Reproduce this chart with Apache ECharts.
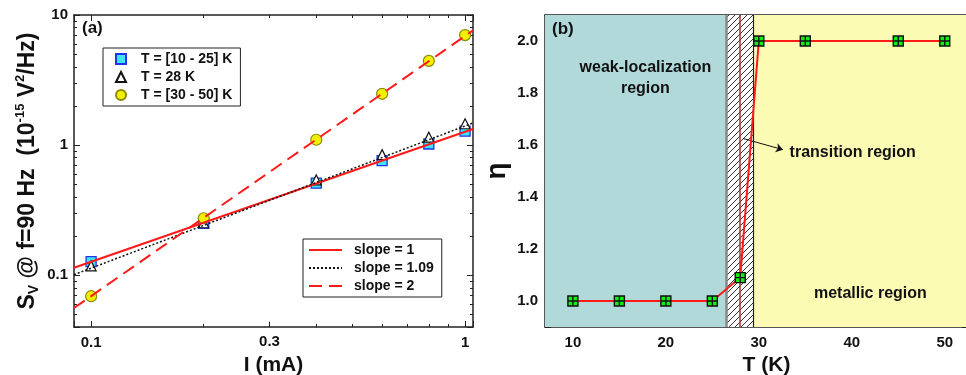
<!DOCTYPE html>
<html>
<head>
<meta charset="utf-8">
<script src="https://cdn.jsdelivr.net/npm/echarts@6/dist/echarts.min.js"></script>
<style>
html, body { margin: 0; padding: 0; background: #fff; }
#main { width: 966px; height: 375px; }
</style>
</head>
<body>
<div id="main"></div>
<script>
// panel (a): noise vs current
const current = [0.1, 0.2, 0.4, 0.6, 0.8, 1.0];
const sLow = [0.127, 0.25, 0.51, 0.76, 1.02, 1.28];
const s28 = [0.118, 0.253, 0.54, 0.845, 1.15, 1.46];
const sHigh = [0.069, 0.274, 1.10, 2.48, 4.44, 7.01];
// fit lines, end points
const fitX = [0.09, 1.05];
const fit1 = [0.114, 1.33];
const fit109 = [0.101, 1.48];
const fit2 = [0.056, 7.6];
const extraCurrentTicks = [0.3];
const sMin = 0.04, sMax = 10;

// panel (b): exponent vs temperature
const temps = [10, 15, 20, 25, 28, 30, 35, 45, 50];
const eta = [1.0, 1.0, 1.0, 1.0, 1.09, 2.0, 2.0, 2.0, 2.0];
const regionEdges = [7, 26.5, 29.45, 52.5];
const transitionT = 28;

const FONT = "'Liberation Sans', Arial, sans-serif";
const ink = '#111';

const pairs = (xs, ys) => xs.map((x, i) => [x, ys[i]]);

// hatch pattern for the transition band
const hatch = document.createElement('canvas');
hatch.width = 6; hatch.height = 6;
const hc = hatch.getContext('2d');
hc.fillStyle = '#fff';
hc.fillRect(0, 0, 6, 6);
hc.strokeStyle = '#333';
hc.lineWidth = 1;
hc.beginPath();
hc.moveTo(0, 6); hc.lineTo(6, 0);
hc.moveTo(-1, 1); hc.lineTo(1, -1);
hc.moveTo(5, 7); hc.lineTo(7, 5);
hc.stroke();

const tickLabel = { fontSize: 15, fontWeight: 'bold', color: ink, fontFamily: FONT };
const axisLine = { onZero: false, lineStyle: { color: '#222', width: 1.5 } };
const tickIn = { inside: true, length: 6, lineStyle: { color: '#222', width: 1 } };
const minorIn = { show: true, length: 3, lineStyle: { color: '#222', width: 1 } };

const chart = echarts.init(document.getElementById('main'));

const option = {
  animation: false,
  textStyle: { fontFamily: FONT },
  title: [
    { text: '(a)', left: 82, top: 20, textStyle: { fontSize: 17, fontWeight: 'bold', color: ink, fontFamily: FONT }, padding: 0 },
    { text: '(b)', left: 552, top: 21, textStyle: { fontSize: 17, fontWeight: 'bold', color: ink, fontFamily: FONT }, padding: 0 }
  ],
  grid: [
    { left: 74, top: 15, width: 399, height: 312, outerBoundsMode: 'none', containLabel: false },
    { left: 545, top: 15, right: -2, height: 312, outerBoundsMode: 'none', containLabel: false }
  ],
  legend: [
    {
      data: ['T = [10 - 25] K', 'T = 28 K', 'T = [30 - 50] K'],
      orient: 'vertical', left: 103, top: 48,
      padding: [2, 8, 2, 12], itemGap: 0, itemWidth: 10, itemHeight: 10,
      borderColor: '#222', borderWidth: 1, backgroundColor: '#fff',
      textStyle: { fontSize: 14, fontWeight: 'bold', color: ink, fontFamily: FONT, lineHeight: 18, padding: [0, 0, 0, 10] }
    },
    {
      data: ['slope = 1', 'slope = 1.09', 'slope = 2'],
      orient: 'vertical', left: 303, top: 239,
      padding: [2, 8, 2, 5], itemGap: 0, itemWidth: 33, itemHeight: 10,
      itemStyle: { opacity: 0 },
      borderColor: '#222', borderWidth: 1, backgroundColor: '#fff',
      textStyle: { fontSize: 14, fontWeight: 'bold', color: ink, fontFamily: FONT, lineHeight: 18, padding: [0, 0, 0, 7] }
    }
  ],
  xAxis: [
    {
      gridIndex: 0, type: 'log', logBase: 10, min: 0.09, max: 1.05, position: 'bottom',
      axisLine, axisTick: tickIn, minorTick: Object.assign({ splitNumber: 9 }, minorIn), splitLine: { show: false },
      axisLabel: Object.assign({ margin: 8, showMinLabel: false, showMaxLabel: false, formatter: v => String(+v.toPrecision(3)) }, tickLabel),
      name: 'I (mA)', nameLocation: 'middle', nameGap: 20,
      nameTextStyle: { fontSize: 21, fontWeight: 'bold', color: ink, fontFamily: FONT }
    },
    {
      gridIndex: 0, type: 'log', logBase: 10, min: 0.09, max: 1.05, position: 'top',
      axisLine, axisTick: tickIn, minorTick: Object.assign({ splitNumber: 9 }, minorIn), splitLine: { show: false },
      axisLabel: { show: false }
    },
    {
      gridIndex: 1, type: 'value', min: 7, max: 52.5, position: 'bottom',
      axisLine, axisTick: tickIn, minorTick: Object.assign({ splitNumber: 2 }, minorIn), splitLine: { show: false },
      axisLabel: Object.assign({ margin: 8, showMinLabel: false, showMaxLabel: false }, tickLabel),
      name: 'T (K)', nameLocation: 'middle', nameGap: 20,
      nameTextStyle: { fontSize: 21, fontWeight: 'bold', color: ink, fontFamily: FONT, padding: [0, 0, 0, 20] }
    },
    {
      gridIndex: 1, type: 'value', min: 7, max: 52.5, position: 'top',
      axisLine, axisTick: tickIn, minorTick: Object.assign({ splitNumber: 2 }, minorIn), splitLine: { show: false },
      axisLabel: { show: false }
    }
  ],
  yAxis: [
    {
      gridIndex: 0, type: 'log', logBase: 10, min: sMin, max: sMax, position: 'left',
      axisLine, axisTick: tickIn, minorTick: Object.assign({ splitNumber: 9 }, minorIn), splitLine: { show: false },
      axisLabel: Object.assign({ margin: 6, showMinLabel: false, formatter: v => String(+v.toPrecision(3)) }, tickLabel),
      name: '{a|S}{sub|V}{a| @ f=90 Hz  (10}{sup|-15}{a| V}{sup|2}{a|/Hz)}',
      nameLocation: 'middle', nameGap: 33,
      nameTextStyle: {
        color: ink, fontFamily: FONT,
        rich: {
          a: { fontSize: 23, fontWeight: 'bold', color: ink, fontFamily: FONT, lineHeight: 27 },
          sub: { fontSize: 14, fontWeight: 'bold', color: ink, fontFamily: FONT, verticalAlign: 'bottom', lineHeight: 27 },
          sup: { fontSize: 13, fontWeight: 'bold', color: ink, fontFamily: FONT, verticalAlign: 'top', lineHeight: 27 }
        }
      }
    },
    {
      gridIndex: 0, type: 'log', logBase: 10, min: sMin, max: sMax, position: 'right',
      axisLine, axisTick: tickIn, minorTick: Object.assign({ splitNumber: 9 }, minorIn), splitLine: { show: false },
      axisLabel: { show: false }
    },
    {
      gridIndex: 1, type: 'value', min: 0.9, max: 2.1, position: 'left',
      axisLine, axisTick: tickIn, minorTick: Object.assign({ splitNumber: 2 }, minorIn), splitLine: { show: false },
      axisLabel: Object.assign({ margin: 7, showMinLabel: false, showMaxLabel: false, formatter: v => v.toFixed(1) }, tickLabel),
      name: 'η', nameLocation: 'middle', nameGap: 34,
      nameTextStyle: { fontSize: 28, fontWeight: 'bold', color: ink, fontFamily: FONT }
    },
    {
      gridIndex: 1, type: 'value', min: 0.9, max: 2.1, position: 'right',
      axisLine, axisTick: tickIn, splitLine: { show: false }, axisLabel: { show: false }
    }
  ],
  series: [
    {
      name: 'slope = 1', type: 'line', xAxisIndex: 0, yAxisIndex: 0,
      data: pairs(fitX, fit1), symbol: 'none', showSymbol: false,
      lineStyle: { color: '#ff1a1a', width: 2 }, itemStyle: { color: '#ff1a1a' },
      markLine: {
        silent: true, symbol: 'none',
        lineStyle: { color: '#222', width: 1, type: 'solid' },
        label: { show: true, position: 'start', distance: 7, formatter: String(extraCurrentTicks[0]), fontSize: 15, fontWeight: 'bold', color: ink, fontFamily: FONT },
        data: extraCurrentTicks.map(v => [{ coord: [v, sMin] }, { coord: [v, sMin * 1.1] }])
      }
    },
    {
      name: 'slope = 1.09', type: 'line', xAxisIndex: 0, yAxisIndex: 0,
      data: pairs(fitX, fit109), symbol: 'none', showSymbol: false,
      lineStyle: { color: '#111', width: 1.5, type: [2, 2] }, itemStyle: { color: '#111' }
    },
    {
      name: 'slope = 2', type: 'line', xAxisIndex: 0, yAxisIndex: 0,
      data: pairs(fitX, fit2), symbol: 'none', showSymbol: false,
      lineStyle: { color: '#ff1a1a', width: 2, type: [13, 7] }, itemStyle: { color: '#ff1a1a' }
    },
    {
      name: 'T = [10 - 25] K', type: 'scatter', xAxisIndex: 0, yAxisIndex: 0,
      data: pairs(current, sLow), symbol: 'rect', symbolSize: 10,
      itemStyle: { color: '#3ee6f5', borderColor: '#2233ee', borderWidth: 1.3, opacity: 1 }
    },
    {
      name: 'T = 28 K', type: 'scatter', xAxisIndex: 0, yAxisIndex: 0,
      data: pairs(current, s28), symbol: 'triangle', symbolSize: 10,
      itemStyle: { color: '#fff', borderColor: '#111', borderWidth: 1.2, opacity: 1 }
    },
    {
      name: 'T = [30 - 50] K', type: 'scatter', xAxisIndex: 0, yAxisIndex: 0,
      data: pairs(current, sHigh), symbol: 'circle', symbolSize: 11,
      itemStyle: { color: '#f2f000', borderColor: '#8a8a00', borderWidth: 1.2, opacity: 1 }
    },
    {
      name: 'eta', type: 'line', xAxisIndex: 2, yAxisIndex: 2,
      data: pairs(temps, eta),
      symbol: 'path://M0 0H10V10H0Z M5 0V10 M0 5H10', symbolSize: 10,
      itemStyle: { color: '#11ee11', borderColor: '#111', borderWidth: 1.4 },
      lineStyle: { color: '#ff1a1a', width: 2 },
      z: 5,
      markArea: {
        silent: true,
        data: [
          [{ xAxis: regionEdges[0], itemStyle: { color: '#b2d9d9' } }, { xAxis: regionEdges[1] }],
          [{ xAxis: regionEdges[1], itemStyle: { color: { image: hatch, repeat: 'repeat' } } }, { xAxis: regionEdges[2] }],
          [{ xAxis: regionEdges[2], itemStyle: { color: '#fbfbb4' } }, { xAxis: regionEdges[3] }]
        ]
      },
      markLine: {
        silent: true, symbol: 'none', label: { show: false },
        data: [
          { xAxis: regionEdges[1], lineStyle: { color: '#888', width: 2.5, type: 'solid' } },
          { xAxis: regionEdges[2], lineStyle: { color: '#222', width: 1.2, type: 'solid' } },
          { xAxis: transitionT, lineStyle: { color: '#a83232', width: 1.5, type: 'solid' } },
          [
            { coord: [28.3, 1.625], symbol: 'none', lineStyle: { color: '#111', width: 1, type: 'solid' } },
            { coord: [32.6, 1.582], symbol: 'arrow', symbolSize: 7 }
          ]
        ]
      },
      markPoint: {
        silent: true, symbol: 'circle', symbolSize: 0,
        label: { show: true, position: 'inside', fontSize: 16, fontWeight: 'bold', color: ink, fontFamily: FONT, lineHeight: 21, formatter: p => p.name },
        data: [
          { name: 'weak-localization\nregion', coord: [17.8, 1.858] },
          { name: 'transition region', coord: [40.1, 1.571] },
          { name: 'metallic region', coord: [42.0, 1.03] }
        ]
      }
    }
  ]
};

chart.setOption(option);
</script>
</body>
</html>
